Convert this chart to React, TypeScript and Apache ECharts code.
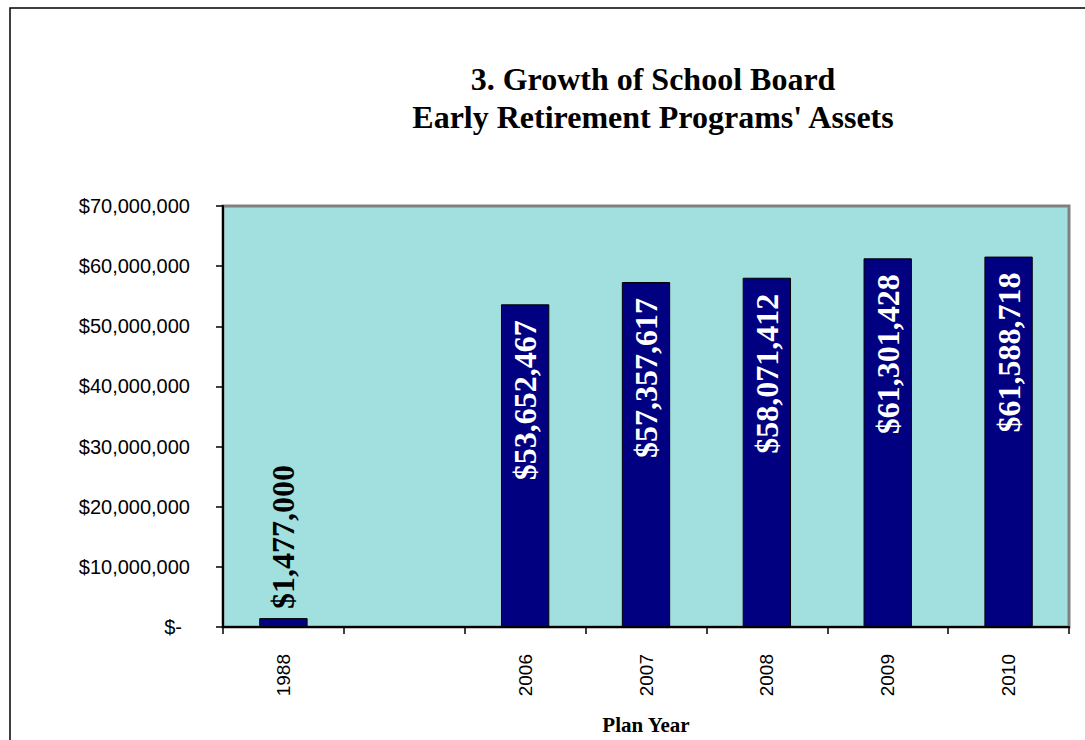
import React, { useEffect, useRef } from "react";
import * as echarts from "echarts";

const categories = ["1988", "", "2006", "2007", "2008", "2009", "2010"];
const assets: (number | null)[] = [1477000, null, 53652467, 57357617, 58071412, 61301428, 61588718];
const yTicks = { min: 0, max: 70000000, interval: 10000000 };
const titleLines = ["3. Growth of School Board", "Early Retirement Programs' Assets"];
const xAxisName = "Plan Year";

const fmtMoney = (v: number) => "$" + Math.round(v).toLocaleString("en-US");

export default function App() {
  const ref = useRef<HTMLDivElement>(null);
  useEffect(() => {
    if (!ref.current) return;
    const chart = echarts.init(ref.current, undefined, { renderer: "svg" });
    const data = assets.map((v) => {
      if (v === null) return "-";
      const small = v < 10000000;
      return {
        value: v,
        label: small
          ? { position: "top", color: "#000", align: "left", verticalAlign: "middle", distance: 9 }
          : { position: "insideTop", color: "#fff", align: "right", verticalAlign: "middle", distance: 16 },
      };
    });
    chart.setOption({
      animation: false,
      backgroundColor: "#fff",
      title: {
        text: titleLines.join("\n"),
        left: 648,
        top: 55,
        textAlign: "center",
        textStyle: {
          fontFamily: "Liberation Serif",
          fontWeight: "bold",
          fontSize: 32,
          lineHeight: 38,
          color: "#000",
        },
      },
      graphic: [
        {
          type: "rect",
          shape: { x: 10, y: 8, width: 1100, height: 780 },
          style: { fill: "none", stroke: "#000", lineWidth: 1.5 },
          silent: true,
          z: 100,
        },
      ],
      grid: {
        left: 223,
        right: 16,
        top: 206,
        bottom: 113,
        show: true,
        backgroundColor: "#A2E0E0",
        borderColor: "#808080",
        borderWidth: 3,
      },
      xAxis: {
        type: "category",
        data: categories,
        boundaryGap: true,
        name: xAxisName,
        nameLocation: "middle",
        nameGap: 87,
        nameTextStyle: {
          fontFamily: "Liberation Serif",
          fontWeight: "bold",
          fontSize: 21,
          color: "#000",
        },
        axisLine: { show: true, lineStyle: { color: "#000", width: 2 } },
        axisTick: { show: true, length: 7, lineStyle: { color: "#000", width: 1.5 } },
        axisLabel: {
          rotate: 90,
          margin: 27,
          fontFamily: "Liberation Sans",
          fontSize: 19,
          color: "#000",
          interval: 0,
        },
        splitLine: { show: false },
      },
      yAxis: {
        type: "value",
        min: yTicks.min,
        max: yTicks.max,
        interval: yTicks.interval,
        axisLine: { show: true, lineStyle: { color: "#000", width: 2 } },
        axisTick: { show: true, length: 7, lineStyle: { color: "#000", width: 1.5 } },
        axisLabel: {
          margin: 33,
          fontFamily: "Liberation Sans",
          fontSize: 20,
          color: "#000",
          formatter: (v: number) => (v === 0 ? "{z|$-}" : fmtMoney(v)),
          rich: {
            z: { fontFamily: "Liberation Sans", fontSize: 20, color: "#000", padding: [0, 8, 0, 0] },
          },
        },
        splitLine: { show: false },
      },
      series: [
        {
          type: "bar",
          data,
          barWidth: "40%",
          itemStyle: { color: "#000080", borderColor: "#000", borderWidth: 1 },
          label: {
            show: true,
            rotate: 90,
            fontFamily: "Liberation Serif",
            fontWeight: "bold",
            fontSize: 32,
            formatter: (p: any) => fmtMoney(p.value),
          },
        },
      ],
    });
    return () => chart.dispose();
  }, []);
  return (
    <div
      ref={ref}
      style={{ position: "absolute", left: 0, top: 0, width: 1085, height: 740 }}
    />
  );
}
